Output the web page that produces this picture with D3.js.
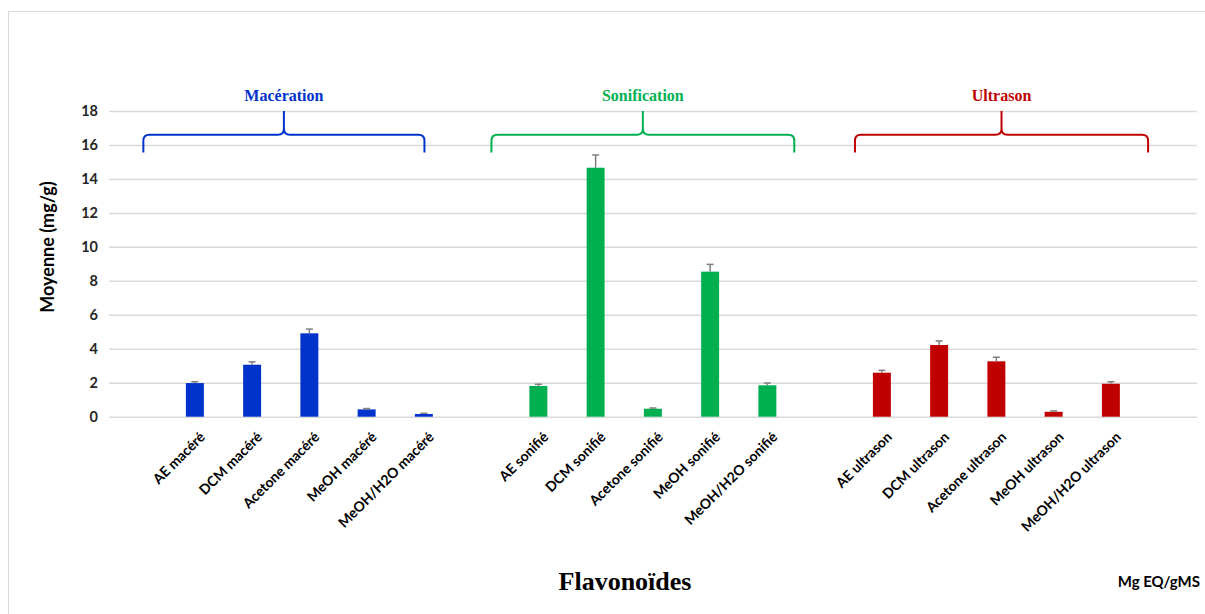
<!DOCTYPE html>
<html>
<head>
<meta charset="utf-8">
<script src="https://cdn.jsdelivr.net/npm/d3@7"></script>
<style>
  html, body { margin: 0; padding: 0; background: #fff; }
  svg { display: block; }
</style>
</head>
<body>
<svg id="chart" width="1205" height="614"></svg>
<script>
// Extraction methods and their extracts
const methodNames = ["Macération", "Sonification", "Ultrason"];
const methodColors = ["#0033cc", "#00b050", "#c00000"];

const macLabels = ["AE macéré", "DCM macéré", "Acetone macéré", "MeOH macéré", "MeOH/H2O macéré"];
const macValues = [1.98, 3.06, 4.91, 0.43, 0.16];
const macErrors = [0.08, 0.17, 0.25, 0.05, 0.04];

const sonLabels = ["AE sonifié", "DCM sonifié", "Acetone sonifié", "MeOH sonifié", "MeOH/H2O sonifié"];
const sonValues = [1.81, 14.66, 0.47, 8.54, 1.85];
const sonErrors = [0.10, 0.75, 0.04, 0.43, 0.13];

const ultLabels = ["AE ultrason", "DCM ultrason", "Acetone ultrason", "MeOH ultrason", "MeOH/H2O ultrason"];
const ultValues = [2.59, 4.22, 3.26, 0.29, 1.94];
const ultErrors = [0.14, 0.24, 0.24, 0.05, 0.12];

// Bracket span for each method, in category-slot units
const bracketStart = [0.6, 6.68, 13.03];
const bracketEnd = [5.51, 11.97, 18.15];

const yTicks = [0, 2, 4, 6, 8, 10, 12, 14, 16, 18];

(function () {
  // Category slots: an empty slot before each method and one at the end
  const groups = [
    { labels: macLabels, values: macValues, errors: macErrors },
    { labels: sonLabels, values: sonValues, errors: sonErrors },
    { labels: ultLabels, values: ultValues, errors: ultErrors }
  ];
  const rows = [];
  let slot = 0;
  groups.forEach((g, gi) => {
    slot++; // blank spacer slot
    g.labels.forEach((lab, i) => {
      rows.push({ slot: slot, label: lab, value: g.values[i], err: g.errors[i], color: methodColors[gi] });
      slot++;
    });
  });
  const slotCount = slot + 1;

  const svg = d3.select("#chart");
  const plotLeft = 109, plotRight = 1196.75, plotTop = 111, plotBottom = 416.7;

  const x = d3.scaleBand()
    .domain(d3.range(slotCount))
    .range([plotLeft, plotRight])
    .paddingInner(0.686)
    .paddingOuter(0.343);
  const slotX = d3.scaleLinear().domain([0, slotCount]).range([plotLeft, plotRight]);
  const y = d3.scaleLinear().domain([0, 18]).range([plotBottom, plotTop]);

  // Outer frame
  svg.append("line").attr("x1", 8).attr("x2", 1205).attr("y1", 11.5).attr("y2", 11.5)
    .attr("stroke", "#d9d9d9").attr("stroke-width", 1);
  svg.append("line").attr("x1", 8.5).attr("x2", 8.5).attr("y1", 11).attr("y2", 614)
    .attr("stroke", "#d9d9d9").attr("stroke-width", 1);

  // Gridlines and y tick labels
  const yAxis = d3.axisLeft(y).tickValues(yTicks).tickSize(-(plotRight - plotLeft)).tickPadding(11);
  const ga = svg.append("g").attr("transform", `translate(${plotLeft},0)`).call(yAxis);
  ga.select(".domain").remove();
  ga.selectAll(".tick line").attr("stroke", "#d9d9d9").attr("stroke-width", 1.5);
  ga.selectAll(".tick text")
    .attr("font-family", "Lato, 'Open Sans', sans-serif")
    .attr("font-weight", "bold")
    .attr("font-size", 14.5)
    .attr("fill", "#262626");

  // Bars
  svg.append("g").selectAll("rect").data(rows).join("rect")
    .attr("x", d => x(d.slot))
    .attr("y", d => y(d.value))
    .attr("width", x.bandwidth())
    .attr("height", d => y(0) - y(d.value))
    .attr("fill", d => d.color);

  // Error bars
  const eb = svg.append("g").attr("stroke", "#7f7f7f").attr("stroke-width", 1.5);
  rows.forEach(d => {
    const cx = x(d.slot) + x.bandwidth() / 2;
    eb.append("line").attr("x1", cx).attr("x2", cx).attr("y1", y(d.value)).attr("y2", y(d.value + d.err));
    eb.append("line").attr("x1", cx - 3.5).attr("x2", cx + 3.5).attr("y1", y(d.value + d.err)).attr("y2", y(d.value + d.err));
  });

  // Rotated category labels
  svg.append("g").selectAll("text").data(rows).join("text")
    .attr("transform", d => `translate(${x(d.slot) + x.bandwidth() / 2 + 7},434) rotate(-45)`)
    .attr("text-anchor", "end")
    .attr("dominant-baseline", "central")
    .attr("font-family", "Lato, 'Open Sans', sans-serif")
    .attr("font-weight", "bold")
    .attr("font-size", 14)
    .attr("fill", "#000")
    .text(d => d.label);

  // Curly brackets with method names
  const r = 6;
  methodNames.forEach((name, i) => {
    const xl = slotX(bracketStart[i]), xr = slotX(bracketEnd[i]);
    const xc = (xl + xr) / 2;
    const yEnd = y(15.55), yH = y(16.6), yTip = y(18.0);
    const p = d3.path();
    p.moveTo(xl, yEnd);
    p.lineTo(xl, yH + r);
    p.quadraticCurveTo(xl, yH, xl + r, yH);
    p.lineTo(xc - r, yH);
    p.quadraticCurveTo(xc, yH, xc, yH - r);
    p.lineTo(xc, yTip);
    p.moveTo(xc, yH - r);
    p.quadraticCurveTo(xc, yH, xc + r, yH);
    p.lineTo(xr - r, yH);
    p.quadraticCurveTo(xr, yH, xr, yH + r);
    p.lineTo(xr, yEnd);
    svg.append("path").attr("d", p.toString())
      .attr("fill", "none").attr("stroke", methodColors[i]).attr("stroke-width", 2);
    svg.append("text")
      .attr("x", xc).attr("y", y(18.6))
      .attr("text-anchor", "middle")
      .attr("font-family", "'Liberation Serif', 'Times New Roman', serif")
      .attr("font-weight", "bold")
      .attr("font-size", 16)
      .attr("fill", methodColors[i])
      .text(name);
  });

  // Axis titles
  svg.append("text")
    .attr("transform", `translate(54,247) rotate(-90)`)
    .attr("text-anchor", "middle")
    .attr("font-family", "Lato, 'Open Sans', sans-serif")
    .attr("font-weight", "bold")
    .attr("font-size", 18)
    .attr("fill", "#000")
    .text("Moyenne (mg/g)");

  svg.append("text")
    .attr("x", 625).attr("y", 590)
    .attr("text-anchor", "middle")
    .attr("font-family", "'Liberation Serif', 'Times New Roman', serif")
    .attr("font-weight", "bold")
    .attr("font-size", 26)
    .attr("fill", "#000")
    .text("Flavonoïdes");

  svg.append("text")
    .attr("x", 1200).attr("y", 587)
    .attr("text-anchor", "end")
    .attr("font-family", "Lato, 'Open Sans', sans-serif")
    .attr("font-weight", "bold")
    .attr("font-size", 15)
    .attr("fill", "#000")
    .text("Mg EQ/gMS");
})();
</script>
</body>
</html>
